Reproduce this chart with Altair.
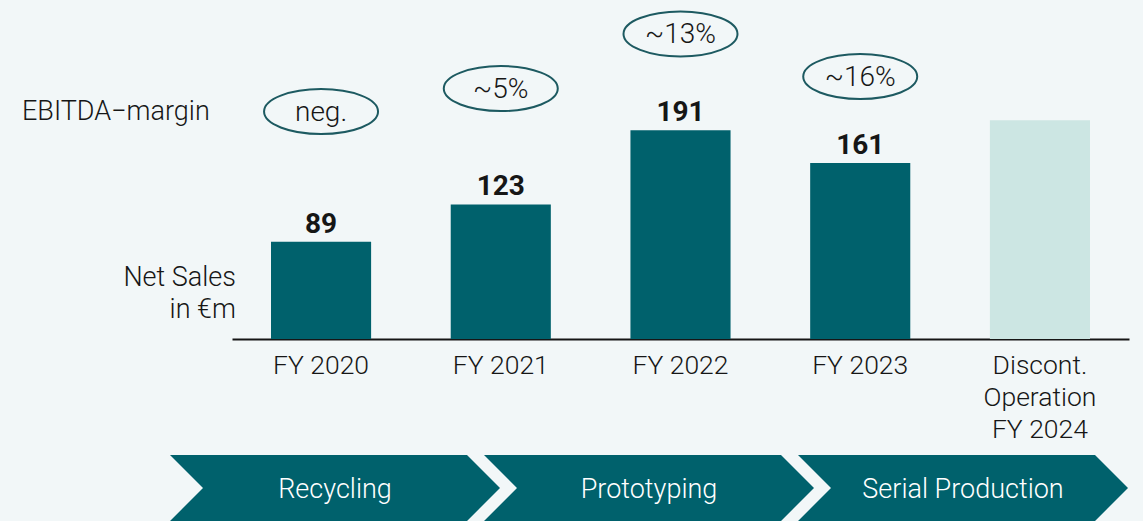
import altair as alt
import pandas as pd

# ---- data ----
years = ["FY 2020", "FY 2021", "FY 2022", "FY 2023", "Discont.\nOperation\nFY 2024"]
net_sales = [89, 123, 191, 161, 200]
sales_labels = ["89", "123", "191", "161", ""]
bar_kind = ["reported", "reported", "reported", "reported", "discontinued"]

margin_years = ["FY 2020", "FY 2021", "FY 2022", "FY 2023"]
margin_labels = ["neg.", "~5%", "~13%", "~16%"]
margin_label_level = [208, 229, 279, 240]

phases = ["Recycling", "Prototyping", "Serial Production"]

# ---- styles ----
TEAL = "#00616c"
LIGHT = "#cce6e3"
RING = "#1d5a61"
INK = "#161616"
BG = "#f2f7f8"
FONT = "Roboto"
W = 300

ELLIPSE = "M -1 0 A 1 0.395 0 1 1 1 0 A 1 0.395 0 1 1 -1 0 Z"
CHEVRON = "M -1 -0.2 L 0.8 -0.2 L 1 0 L 0.8 0.2 L -1 0.2 L -0.8 0 Z"

bars_df = pd.DataFrame({"year": years, "sales": net_sales,
                        "label": sales_labels, "kind": bar_kind})
margin_df = pd.DataFrame({"year": margin_years, "margin": margin_labels,
                          "level": margin_label_level})
phase_df = pd.DataFrame({"phase": phases})
one_df = pd.DataFrame({"k": [0]})

xscale = alt.Scale(paddingInner=0.443, paddingOuter=0.217)
yscale = alt.Scale(domain=[0, 310])

x_year = alt.X(
    "year:N", sort=years, scale=xscale,
    axis=alt.Axis(title=None, labelExpr="split(datum.label, '\\n')",
                  ticks=False, domainColor=INK, domainWidth=2,
                  labelFontSize=26.5, labelColor=INK, labelPadding=13,
                  labelLineHeight=32, labelAngle=0, labelFont=FONT,
                  labelFontWeight=W, grid=False, labelOverlap=False),
)

bars = alt.Chart(bars_df).mark_bar().encode(
    x=x_year,
    y=alt.Y("sales:Q", scale=yscale, axis=None),
    color=alt.Color("kind:N", scale=alt.Scale(domain=["reported", "discontinued"],
                                              range=[TEAL, LIGHT]), legend=None),
)

values = alt.Chart(bars_df).mark_text(
    baseline="alphabetic", dy=-9, fontSize=28, fontWeight="bold", color=INK, font=FONT
).encode(
    x=alt.X("year:N", sort=years, scale=xscale),
    y=alt.Y("sales:Q", scale=yscale),
    text="label:N",
)

rings = alt.Chart(margin_df).mark_point(
    shape=ELLIPSE, filled=False, size=12996, color=RING, strokeWidth=2, opacity=1
).encode(
    x=alt.X("year:N", sort=years, scale=xscale),
    y=alt.Y("level:Q", scale=yscale),
)

ring_text = alt.Chart(margin_df).mark_text(
    baseline="middle", fontSize=28, fontWeight=W, color=INK, font=FONT, dy=1
).encode(
    x=alt.X("year:N", sort=years, scale=xscale),
    y=alt.Y("level:Q", scale=yscale),
    text="margin:N",
)

ebitda_label = alt.Chart(one_df).mark_text(
    text="EBITDA\u2212margin", align="left", baseline="middle",
    fontSize=27, fontWeight=W, color=INK, font=FONT
).encode(x=alt.value(-210), y=alt.value(112))

sales_label = alt.Chart(one_df).mark_text(
    text=["Net Sales", "in \u20acm"], align="right", baseline="top",
    fontSize=27, fontWeight=W, lineHeight=32, color=INK, font=FONT
).encode(x=alt.value(4), y=alt.value(265))

main = alt.layer(bars, values, rings, ring_text, ebitda_label, sales_label)

x_phase = alt.X("phase:N", sort=phases,
                scale=alt.Scale(type="point", range=[103, 731], padding=0), axis=None)

chevrons = alt.Chart(phase_df).mark_point(
    shape=CHEVRON, filled=True, size=108900, color=TEAL, opacity=1, strokeWidth=0
).encode(x=x_phase, y=alt.value(488))

chevron_text = alt.Chart(phase_df).mark_text(
    baseline="middle", fontSize=27, fontWeight=W, color="white", font=FONT
).encode(x=x_phase, y=alt.value(490), text="phase:N")

banner = alt.layer(chevrons, chevron_text)

chart = alt.layer(main, banner).resolve_scale(x="independent").properties(
    width=897, height=339,
    padding={"left": 232, "top": 0, "right": 14, "bottom": 182},
    autosize=alt.AutoSizeParams(type="none"),
    background=BG,
).configure_view(stroke=None)

chart.save("out.html", embed_options={"renderer": "svg", "actions": False})
